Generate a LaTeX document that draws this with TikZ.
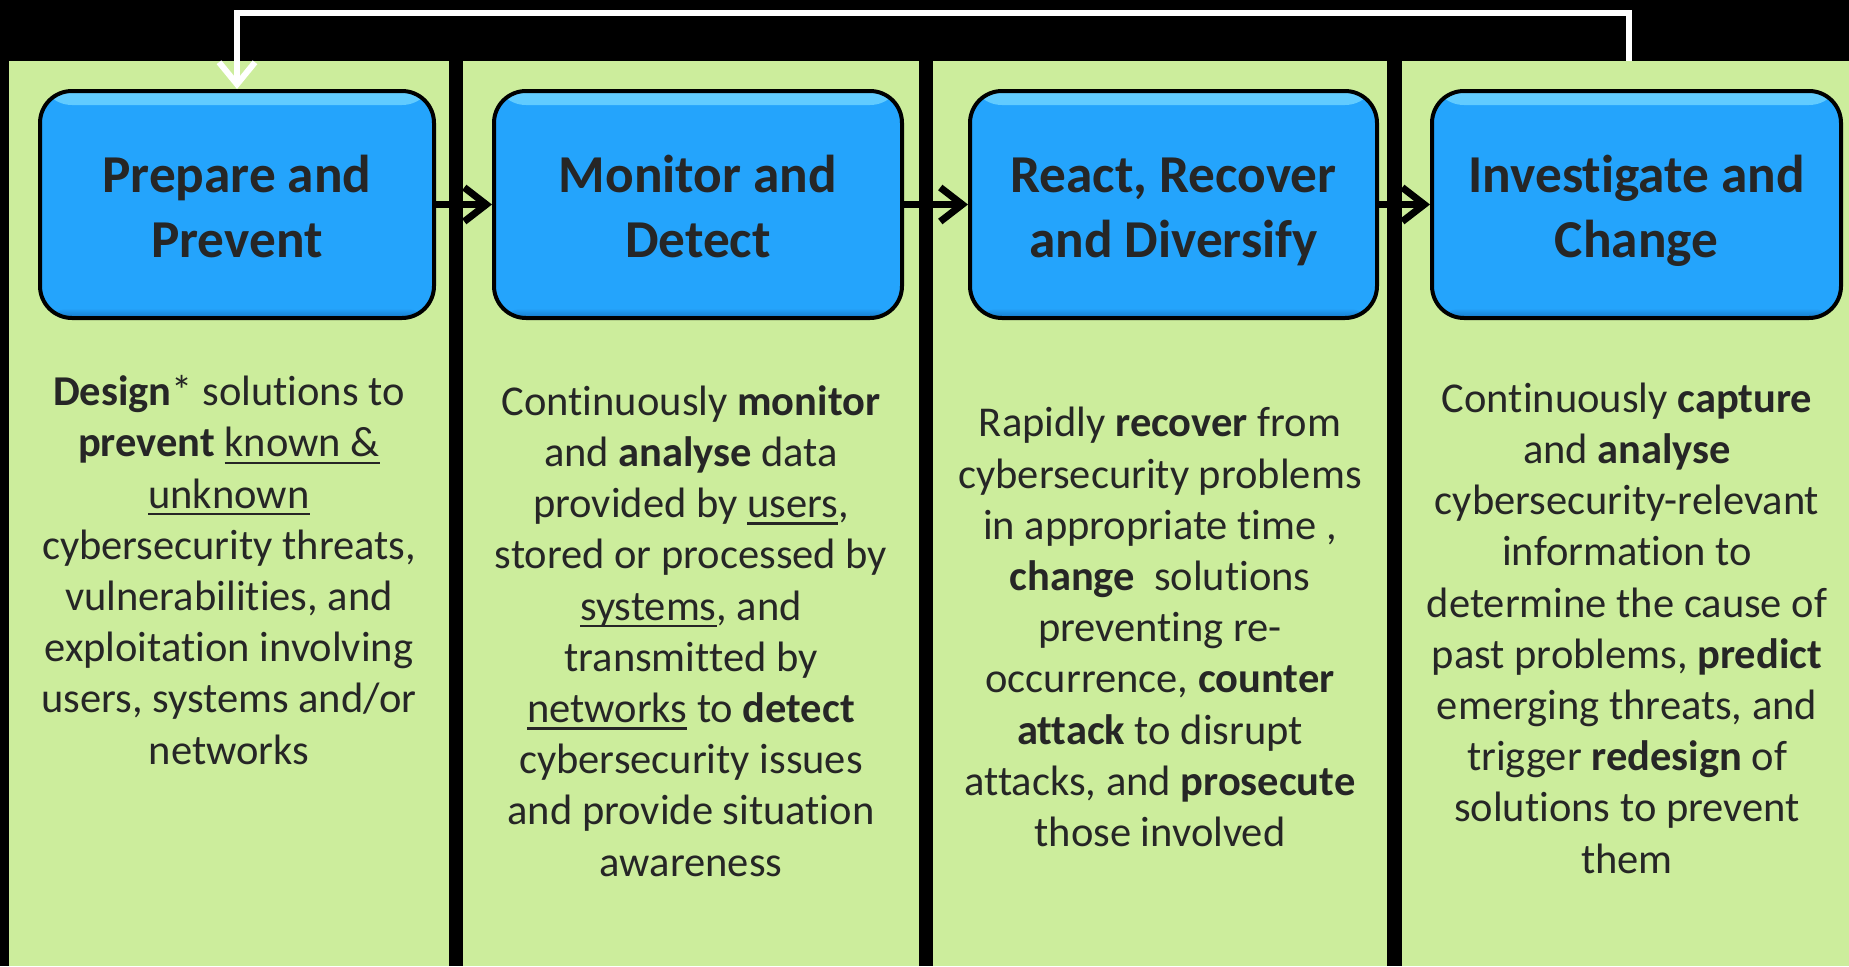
\documentclass[tikz,border=0pt]{standalone}
\usepackage{fontspec}
\setmainfont{Carlito}[Ligatures={NoCommon}]
\usetikzlibrary{arrows.meta}
\definecolor{panelgreen}{RGB}{204,237,156}
\definecolor{boxblue}{RGB}{36,164,252}
\definecolor{boxlight}{RGB}{100,205,255}
\definecolor{boxdark}{RGB}{22,120,200}
\definecolor{ink}{RGB}{38,38,38}
\newcommand\myul[1]{\setbox0\hbox{#1}\rlap{\rule[-7pt]{\wd0}{2.3pt}}\box0\relax}
\newcommand\toprule{\rule{0pt}{52.5pt}}
\newcommand\botrule{\rule[-12.5pt]{0pt}{12.5pt}}
\begin{document}
\begin{tikzpicture}[x=1pt,y=-1pt,
  panel/.style={fill=panelgreen,draw=none},
  stage/.style={draw=black,line width=4pt,fill=boxblue,rounded corners=32pt,
    minimum height=227pt,text=ink,align=center,inner sep=0pt,
    font=\bfseries\fontsize{53.3}{65}\selectfont,
    path picture={
      \shade[top color=boxlight,bottom color=boxblue]
        (path picture bounding box.north west) rectangle ([yshift=-14pt]path picture bounding box.north east);
      \shade[top color=boxblue,bottom color=boxdark]
        ([yshift=10pt]path picture bounding box.south west) rectangle (path picture bounding box.south east);
    }},
  desc/.style={text=ink,align=center,inner sep=0pt,font=\fontsize{42.5}{51.2}\selectfont},
  flow/.style={draw=black,line width=7pt,-{Straight Barb[length=22pt,width=34pt]}},
  back/.style={draw=white,line width=6pt,-{Straight Barb[length=22pt,width=36pt]}}
]
\useasboundingbox (0,0) rectangle (1849,966);
\fill[black] (0,0) rectangle (1849,966);
% panels
\fill[panel] (9,61) rectangle (449,966);
\fill[panel] (463,61) rectangle (919,966);
\fill[panel] (933,61) rectangle (1387,966);
\fill[panel] (1402,61) rectangle (1849,966);
% stage boxes
\node[stage,minimum width=394pt] (b1) at (237,204.5) {\toprule Prepare and\\Prevent\botrule};
\node[stage,minimum width=408pt] (b2) at (698,204.5) {\toprule Monitor and\\Detect\botrule};
\node[stage,minimum width=407pt] (b3) at (1173.5,204.5) {\toprule React, Recover\\and Diversify\botrule};
\node[stage,minimum width=409pt] (b4) at (1636.5,204.5) {\toprule Investigate and\\Change\botrule};
% arrows
\draw[flow] (b1.east) -- (b2.west);
\draw[flow] (b2.east) -- (b3.west);
\draw[flow] (b3.east) -- (b4.west);
\coordinate (fb) at (1629,61);
\coordinate (fbtop) at (237,13);
\draw[back] (fb) |- (fbtop) -- (b1.north);
% descriptions
\node[desc] (d1) at (229,570) {\textbf{Design}* solutions to\\\textbf{prevent} \myul{known \&}\\\myul{unknown}\\cybersecurity threats,\\vulnerabilities, and\\exploitation involving\\users, systems and/or\\networks};
\node[desc] (d2) at (691,631) {Continuously \textbf{monitor}\\and \textbf{analyse} data\\provided by \myul{users},\\stored or processed by\\\myul{systems}, and\\transmitted by\\\myul{networks} to \textbf{detect}\\cybersecurity issues\\and provide situation\\awareness};
\node[desc] (d3) at (1160,627) {Rapidly \textbf{recover} from\\cybersecurity problems\\in appropriate time ,\\\textbf{change}\ \ solutions\\preventing re-\\occurrence, \textbf{counter}\\\textbf{attack} to disrupt\\attacks, and \textbf{prosecute}\\those involved};
\node[desc] (d4) at (1627,628) {Continuously \textbf{capture}\\and \textbf{analyse}\\cybersecurity-relevant\\information to\\determine the cause of\\past problems, \textbf{predict}\\emerging threats, and\\trigger \textbf{redesign} of\\solutions to prevent\\them};
\end{tikzpicture}
\end{document}
